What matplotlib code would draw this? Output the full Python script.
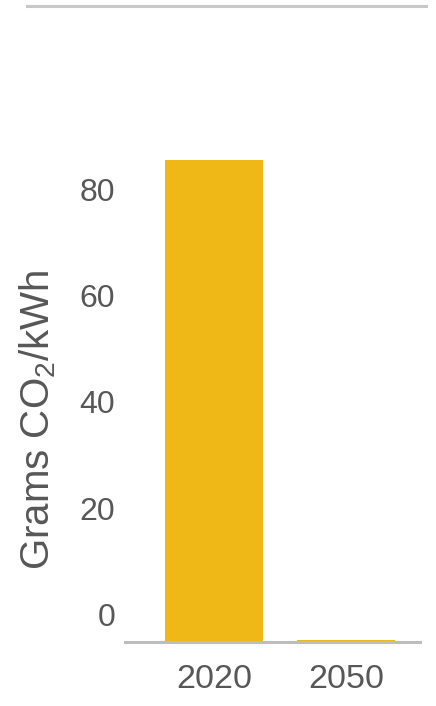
import matplotlib
matplotlib.use("Agg")
import matplotlib.pyplot as plt
import matplotlib.transforms as mtransforms
from matplotlib.lines import Line2D

# ---- data ----
categories = ["2020", "2050"]
values = [91, 0.3]
y_ticks = [0, 20, 40, 60, 80]
y_label = "Grams CO$_2$/kWh"

# ---- style ----
BAR_COLOR = "#EFB817"
TEXT_COLOR = "#575757"
AXIS_COLOR = "#BDBDBD"
Y_MAX = 100
PX_PER_UNIT = 5.3

plt.rcParams["font.family"] = ["Liberation Sans", "DejaVu Sans"]
plt.rcParams["mathtext.fontset"] = "custom"
plt.rcParams["mathtext.rm"] = "Liberation Sans"
plt.rcParams["mathtext.it"] = "Liberation Sans"

fig = plt.figure(figsize=(4.36, 7.06), dpi=100)
ax = fig.add_axes([125 / 436, 64 / 706, 295 / 436, Y_MAX * PX_PER_UNIT / 706])

x = list(range(len(categories)))
ax.bar(x, values, width=0.74, color=BAR_COLOR, zorder=2)

ax.set_xlim(-0.672, 1.555)
ax.set_ylim(0, Y_MAX)
ax.set_xticks(x)
ax.set_xticklabels(categories)
ax.set_yticks(y_ticks)
ax.tick_params(axis="both", length=0, labelcolor=TEXT_COLOR)
ax.tick_params(axis="y", pad=7, labelsize=23)
ax.tick_params(axis="x", pad=16, labelsize=24.5)

# labels sit slightly above their gridline positions, as in the original
offset = mtransforms.ScaledTranslation(0, 0.28, fig.dpi_scale_trans)
for lab in ax.get_yticklabels():
    lab.set_transform(lab.get_transform() + offset)

for s in ["top", "right", "left"]:
    ax.spines[s].set_visible(False)
ax.spines["bottom"].set_color(AXIS_COLOR)
ax.spines["bottom"].set_linewidth(2.2)
ax.spines["bottom"].set_zorder(3)

ax.set_ylabel(y_label, fontsize=29, color=TEXT_COLOR)
ax.yaxis.set_label_coords(-0.228, 0.42)

fig.add_artist(Line2D([27 / 436, 426 / 436], [1 - 6 / 706, 1 - 6 / 706],
                      color="#C8C8C8", linewidth=2.2, transform=fig.transFigure))

fig.savefig("out.png", dpi=100)
